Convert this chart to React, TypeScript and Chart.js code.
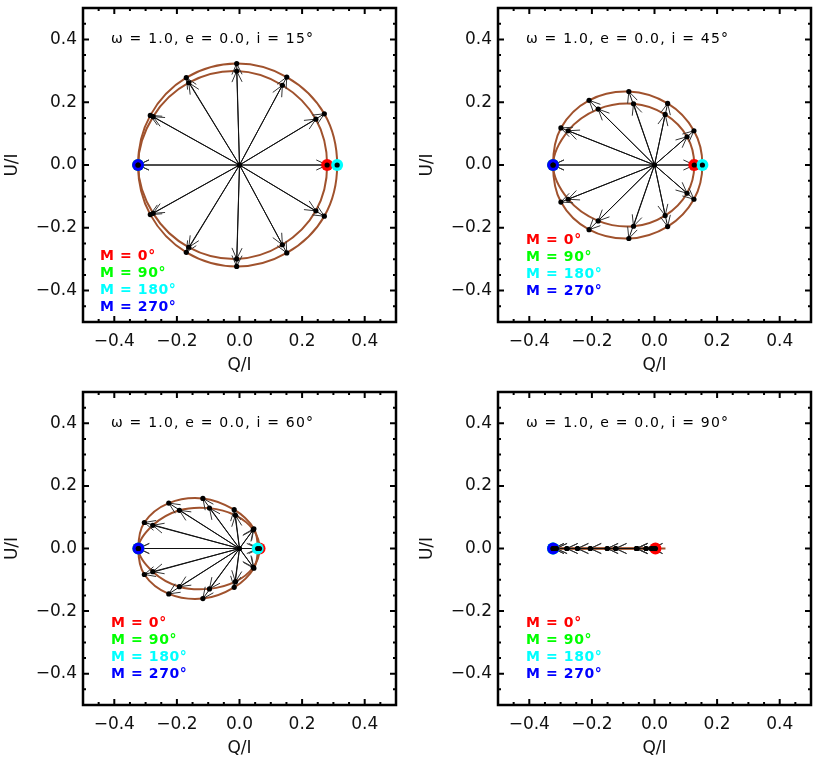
import React, { useEffect, useRef } from "react";
import { Chart, registerables } from "chart.js";
Chart.register(...registerables);

// ---------- data ----------
const TICK_VALUES = [-0.4, -0.2, 0, 0.2, 0.4];
const TICK_LABELS = ["−0.4", "−0.2", "0.0", "0.2", "0.4"];
const MINOR_STEP = 0.05;
const AXIS_MIN = -0.5;
const AXIS_MAX = 0.5;
const X_TITLE = "Q/I";
const Y_TITLE = "U/I";

const PANEL_TITLES = [
  "ω = 1.0, e = 0.0, i = 15°",
  "ω = 1.0, e = 0.0, i = 45°",
  "ω = 1.0, e = 0.0, i = 60°",
  "ω = 1.0, e = 0.0, i = 90°",
];
const LEGEND_LABELS = ["M = 0°", "M = 90°", "M = 180°", "M = 270°"];
const LEGEND_COLORS = ["#ff0000", "#00ff00", "#00ffff", "#0000ff"];

// i = 15°
const RING_A_Q_15 = [-0.324, -0.276, -0.162, -0.009, 0.137, 0.244, 0.280, 0.244, 0.137, -0.009, -0.162, -0.276, -0.324];
const RING_A_U_15 = [0, 0.154, 0.262, 0.299, 0.254, 0.146, 0, -0.146, -0.254, -0.299, -0.262, -0.154, 0];
const RING_B_Q_15 = [-0.324, -0.285, -0.170, -0.009, 0.151, 0.271, 0.312, 0.271, 0.151, -0.009, -0.170, -0.285, -0.324];
const RING_B_U_15 = [0, 0.158, 0.278, 0.323, 0.280, 0.163, 0, -0.163, -0.280, -0.323, -0.278, -0.158, 0];
const MARK_Q_15 = [0.280, -0.324, 0.312, -0.324];

// i = 45°
const RING_A_Q_45 = [-0.324, -0.276, -0.180, -0.067, 0.034, 0.104, 0.127, 0.104, 0.034, -0.067, -0.180, -0.276, -0.324];
const RING_A_U_45 = [0, 0.109, 0.178, 0.195, 0.161, 0.090, 0, -0.090, -0.161, -0.195, -0.178, -0.109, 0];
const RING_B_Q_45 = [-0.324, -0.299, -0.209, -0.082, 0.042, 0.126, 0.153, 0.126, 0.042, -0.082, -0.209, -0.299, -0.324];
const RING_B_U_45 = [0, 0.118, 0.206, 0.234, 0.196, 0.109, 0, -0.109, -0.196, -0.234, -0.206, -0.118, 0];
const MARK_Q_45 = [0.127, -0.324, 0.153, -0.324];

// i = 60°
const RING_A_Q_60 = [-0.323, -0.277, -0.192, -0.096, -0.013, 0.044, 0.064, 0.044, -0.013, -0.096, -0.192, -0.277, -0.323];
const RING_A_U_60 = [0, 0.074, 0.122, 0.129, 0.106, 0.060, 0, -0.060, -0.106, -0.129, -0.122, -0.074, 0];
const RING_B_Q_60 = [-0.323, -0.304, -0.226, -0.117, -0.017, 0.046, 0.058, 0.046, -0.017, -0.117, -0.226, -0.304, -0.323];
const RING_B_U_60 = [0, 0.083, 0.145, 0.160, 0.124, 0.063, 0, -0.063, -0.124, -0.160, -0.145, -0.083, 0];
const MARK_Q_60 = [0.064, -0.323, 0.058, -0.323];

// i = 90°
const RING_A_Q_90 = [-0.324, -0.280, -0.205, -0.124, -0.057, -0.009, 0.003, -0.009, -0.057, -0.124, -0.205, -0.280, -0.324];
const RING_A_U_90 = [0, 0, 0, 0, 0, 0, 0, 0, 0, 0, 0, 0, 0];
const RING_B_Q_90 = [-0.324, -0.314, -0.246, -0.151, -0.057, -0.027, 0.0, -0.027, -0.057, -0.151, -0.246, -0.314, -0.324];
const RING_B_U_90 = [0, 0, 0, 0, 0, 0, 0, 0, 0, 0, 0, 0, 0];
const TRACK_Q_90 = [-0.324, 0.035];
const TRACK_U_90 = [0, 0];
const MARK_Q_90 = [0.003, -0.324, -0.324, -0.324];

const MARK_U = [0, 0, 0, 0];

// ---------- layout / style ----------
const CURVE_COLOR = "#a0522d";
const FONT = "'DejaVu Sans', 'Liberation Sans', sans-serif";

const PANELS = [
  { left: 0, top: 0, h: 384, lx: 17, ly: 248, ringA: [RING_A_Q_15, RING_A_U_15], ringB: [RING_B_Q_15, RING_B_U_15], mark: MARK_Q_15, track: null as any, title: PANEL_TITLES[0] },
  { left: 415, top: 0, h: 384, lx: 28, ly: 232, ringA: [RING_A_Q_45, RING_A_U_45], ringB: [RING_B_Q_45, RING_B_U_45], mark: MARK_Q_45, track: null as any, title: PANEL_TITLES[1] },
  { left: 0, top: 384, h: 383, lx: 28, ly: 231, ringA: [RING_A_Q_60, RING_A_U_60], ringB: [RING_B_Q_60, RING_B_U_60], mark: MARK_Q_60, track: null as any, title: PANEL_TITLES[2] },
  { left: 415, top: 384, h: 383, lx: 28, ly: 231, ringA: [RING_A_Q_90, RING_A_U_90], ringB: [RING_B_Q_90, RING_B_U_90], mark: MARK_Q_90, track: [TRACK_Q_90, TRACK_U_90], title: PANEL_TITLES[3] },
];

function pts(q: number[], u: number[]) {
  return q.map((v, i) => ({ x: v, y: u[i] }));
}

function closedRing(q: number[], u: number[]) {
  const p = pts(q, u); // first == last
  const n = p.length;
  return [p[n - 2], ...p, p[1]];
}

function tickLabel(v: number) {
  const i = TICK_VALUES.findIndex((t) => Math.abs(t - v) < 1e-9);
  return i >= 0 ? TICK_LABELS[i] : "";
}

const decorPlugin = {
  id: "decor",
  afterDatasetDraw(chart: any, args: any) {
    const ds = chart.data.datasets[args.index];
    if (!ds || ds.kind !== "arrows") return;
    const ctx = chart.ctx;
    const xs = chart.scales.x;
    const ys = chart.scales.y;
    const tips = ds.tips as { x: number; y: number }[];
    const ox = xs.getPixelForValue(0);
    const oy = ys.getPixelForValue(0);
    ctx.save();
    ctx.beginPath();
    ctx.rect(chart.chartArea.left, chart.chartArea.top, chart.chartArea.width, chart.chartArea.height);
    ctx.clip();
    ctx.strokeStyle = "#333";
    ctx.lineWidth = 1;
    const L = 12;
    const th = (25 * Math.PI) / 180;
    for (const t of tips) {
      const px = xs.getPixelForValue(t.x);
      const py = ys.getPixelForValue(t.y);
      const dx = px - ox;
      const dy = py - oy;
      const d = Math.hypot(dx, dy);
      if (d < 1) continue;
      const ux = dx / d;
      const uy = dy / d;
      ctx.beginPath();
      for (const s of [th, -th]) {
        const c = Math.cos(s);
        const sn = Math.sin(s);
        const rx = ux * c - uy * sn;
        const ry = ux * sn + uy * c;
        ctx.moveTo(px - rx * L, py - ry * L);
        ctx.lineTo(px, py);
      }
      ctx.stroke();
    }
    ctx.restore();
  },
  afterDraw(chart: any) {
    const ctx = chart.ctx;
    const a = chart.chartArea;
    const xs = chart.scales.x;
    const ys = chart.scales.y;
    const cfg = chart.options.plugins.decor;
    ctx.save();
    // frame
    ctx.strokeStyle = "#000";
    ctx.lineWidth = 2.5;
    ctx.strokeRect(a.left, a.top, a.right - a.left, a.bottom - a.top);
    // ticks inward on all sides
    ctx.lineWidth = 2;
    ctx.beginPath();
    const nSteps = Math.round((AXIS_MAX - AXIS_MIN) / MINOR_STEP);
    for (let k = 1; k < nSteps; k++) {
      const v = AXIS_MIN + k * MINOR_STEP;
      const major = TICK_VALUES.some((t) => Math.abs(t - v) < 1e-9);
      const len = major ? 6 : 3;
      const px = xs.getPixelForValue(v);
      const py = ys.getPixelForValue(v);
      ctx.moveTo(px, a.bottom);
      ctx.lineTo(px, a.bottom - len);
      ctx.moveTo(px, a.top);
      ctx.lineTo(px, a.top + len);
      ctx.moveTo(a.left, py);
      ctx.lineTo(a.left + len, py);
      ctx.moveTo(a.right, py);
      ctx.lineTo(a.right - len, py);
    }
    ctx.stroke();
    // title
    ctx.fillStyle = "#000";
    ctx.font = `14px ${FONT}`;
    (ctx as any).letterSpacing = "1.2px";
    ctx.textBaseline = "middle";
    ctx.textAlign = "left";
    ctx.fillText(cfg.title, a.left + 28, a.top + 31);
    // legend
    (ctx as any).letterSpacing = "0.6px";
    ctx.font = `bold 14px ${FONT}`;
    LEGEND_LABELS.forEach((lab, i) => {
      ctx.fillStyle = LEGEND_COLORS[i];
      ctx.fillText(lab, a.left + cfg.lx, a.top + cfg.ly + i * 17);
    });
    ctx.restore();
  },
};

function Panel({ p }: { p: any }) {
  const ref = useRef<HTMLCanvasElement>(null);
  useEffect(() => {
    if (!ref.current) return;
    const ringAPts = pts(p.ringA[0], p.ringA[1]);
    const ringBPts = pts(p.ringB[0], p.ringB[1]);
    const tips = [...ringAPts.slice(0, -1), ...ringBPts.slice(0, -1)];
    const arrowData: any[] = [];
    tips.forEach((t) => {
      arrowData.push({ x: 0, y: 0 }, t, { x: NaN, y: NaN });
    });
    const ringDs = (q: number[], u: number[]) => {
      const data = closedRing(q, u);
      const n = data.length;
      return {
        data,
        showLine: true,
        borderColor: CURVE_COLOR,
        borderWidth: 2,
        pointRadius: 0,
        tension: 0.35,
        order: 10,
        segment: {
          borderColor: (c: any) => (c.p0DataIndex === 0 || c.p1DataIndex === n - 1 ? "rgba(0,0,0,0)" : CURVE_COLOR),
        },
      };
    };
    const datasets: any[] = [];
    // dots on top
    datasets.push({
      data: [{ x: 0, y: 0 }, ...tips],
      showLine: false,
      pointRadius: 2.6,
      pointBackgroundColor: "#000",
      pointBorderWidth: 0,
      order: 1,
    });
    // markers (blue top)
    for (let i = 3; i >= 0; i--) {
      datasets.push({
        data: [{ x: p.mark[i], y: MARK_U[i] }],
        showLine: false,
        pointRadius: 6,
        pointBackgroundColor: LEGEND_COLORS[i],
        pointBorderWidth: 0,
        order: 5 - i,
      });
    }
    datasets.push({
      kind: "arrows",
      tips,
      data: arrowData,
      showLine: true,
      spanGaps: false,
      borderColor: "#111",
      borderWidth: 1,
      pointRadius: 0,
      tension: 0,
      order: 8,
    });
    datasets.push(ringDs(p.ringA[0], p.ringA[1]));
    datasets.push(ringDs(p.ringB[0], p.ringB[1]));
    if (p.track) {
      datasets.push({
        data: pts(p.track[0], p.track[1]),
        showLine: true,
        borderColor: CURVE_COLOR,
        borderWidth: 2,
        pointRadius: 0,
        order: 11,
      });
    }
    const tickFont = { family: FONT, size: 17 };
    const zeroPad = (s: any) => {
      s.paddingTop = 0;
      s.paddingBottom = 0;
      s.paddingLeft = 0;
      s.paddingRight = 0;
    };
    const chart = new Chart(ref.current, {
      type: "line",
      data: { datasets },
      options: {
        responsive: false,
        animation: false,
        events: [],
        layout: { padding: { left: 0, right: 19, top: 8, bottom: 0 } },
        plugins: {
          legend: { display: false },
          tooltip: { enabled: false },
          decor: { title: p.title, lx: p.lx, ly: p.ly },
        } as any,
        scales: {
          x: {
            type: "linear",
            min: AXIS_MIN,
            max: AXIS_MAX,
            afterBuildTicks: (s: any) => {
              s.ticks = TICK_VALUES.map((v) => ({ value: v }));
            },
            afterFit: (s: any) => {
              s.height = 62;
              zeroPad(s);
            },
            grid: { display: false, drawTicks: false },
            border: { display: false },
            ticks: { autoSkip: false, maxRotation: 0, padding: 9, font: tickFont, color: "#111", callback: (v: any) => tickLabel(Number(v)) },
            title: { display: true, text: X_TITLE, font: tickFont, color: "#111", padding: { top: 0, bottom: 8 } },
          },
          y: {
            type: "linear",
            min: AXIS_MIN,
            max: AXIS_MAX,
            afterBuildTicks: (s: any) => {
              s.ticks = TICK_VALUES.map((v) => ({ value: v }));
            },
            afterFit: (s: any) => {
              s.width = 83;
              zeroPad(s);
            },
            grid: { display: false, drawTicks: false },
            border: { display: false },
            ticks: { autoSkip: false, padding: 6, font: tickFont, color: "#111", callback: (v: any) => tickLabel(Number(v)) },
            title: { display: true, text: Y_TITLE, font: tickFont, color: "#111", padding: { top: 2, bottom: 0 } },
          },
        },
      },
      plugins: [decorPlugin as any],
    });
    return () => chart.destroy();
  }, [p]);
  return (
    <canvas
      ref={ref}
      width={415}
      height={p.h}
      style={{ position: "absolute", left: p.left, top: p.top, width: 415, height: p.h, display: "block" }}
    />
  );
}

export default function App() {
  return (
    <div style={{ position: "fixed", left: 0, top: 0, width: 830, height: 767, overflow: "hidden", background: "#fff" }}>
      {PANELS.map((p, i) => (
        <Panel key={i} p={p} />
      ))}
    </div>
  );
}
